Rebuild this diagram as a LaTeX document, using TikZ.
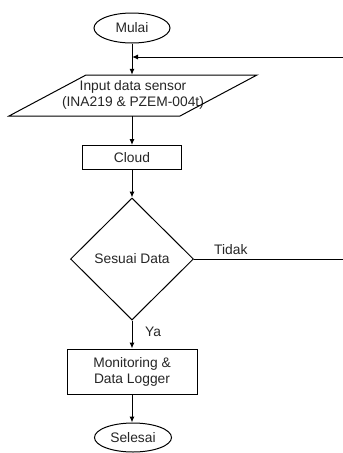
\documentclass[tikz,border=0pt]{standalone}
\usepackage{fontspec}
\setmainfont{Liberation Sans}
\usetikzlibrary{shapes.geometric,arrows.meta}
\begin{document}
\begin{tikzpicture}[x=1pt,y=-1pt,
  every node/.style={font=\fontsize{13.8}{16}\selectfont, inner sep=0pt, align=center, text=black!85},
  term/.style={draw, ellipse, line width=1pt, minimum width=#1, minimum height=30},
  procbox/.style={draw, rectangle, line width=1pt},
  decide/.style={draw, diamond, line width=1pt, minimum width=123, minimum height=122},
  conn/.style={line width=1pt, -{Latex[length=6pt,width=5pt]}},
  plainline/.style={line width=1pt},
  lbl/.style={anchor=west}
]
\useasboundingbox (0,0) rectangle (343,453);
\fill[white] (0,0) rectangle (343,453);

\node[term=76] (mulai) at (132,28) {Mulai};
\coordinate (join) at (132,57);
\coordinate (fbright) at (343,57);

\node[minimum width=171, minimum height=41] (inp) at (132,95.5) {};
\node (inptext) at (133,95.4) {Input data sensor\\(INA219 \& PZEM-004t)};
\draw[line width=1pt] (86,75) -- (257,75) -- (180,116) -- (9,116) -- cycle;

\node[procbox, minimum width=99, minimum height=24] (cloud) at (132,157.5) {Cloud};
\node[decide] (dia) at (132,259) {Sesuai Data};
\coordinate (tright) at (343,259);
\node[procbox, minimum width=130, minimum height=45] (mon) at (132,371.5) {Monitoring \&\\Data Logger};
\node[term=77, minimum height=29] (sel) at (133,437.5) {Selesai};

\draw[plainline] (mulai.south) -- (join);
\draw[conn] (join) -- (inp.north);
\draw[conn] (fbright) -- (join);
\draw[conn] (inp.south) -- (cloud.north);
\draw[conn] (cloud.south) -- (dia.north);
\draw[plainline] (dia.east) -- (tright);
\node[lbl] (tidak) at (214,250) {Tidak};
\draw[conn] (dia.south) -- (mon.north);
\node[lbl] (ya) at (145,332) {Ya};
\draw[conn] (mon.south) -- (mon.south |- sel.north);
\end{tikzpicture}
\end{document}
